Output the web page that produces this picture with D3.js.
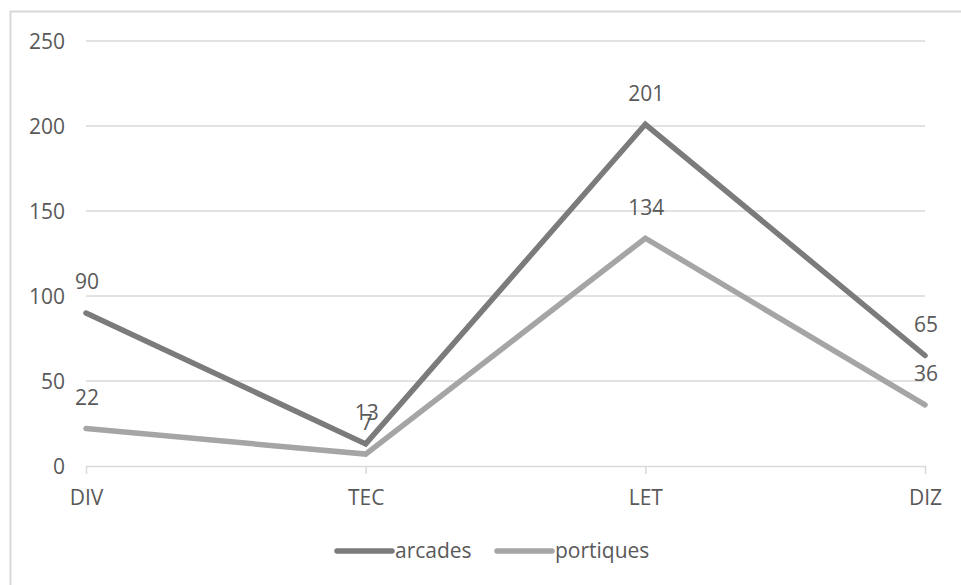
<!DOCTYPE html>
<html>
<head>
<meta charset="utf-8">
<script src="https://cdn.jsdelivr.net/npm/d3@7"></script>
<style>
  html, body { margin: 0; padding: 0; background: #fff; }
  svg { display: block; }
  text { font-family: "Open Sans", "Noto Sans", sans-serif; fill: #595959; }
</style>
</head>
<body>
<svg id="chart" width="961" height="585"></svg>
<script>
// Categories and series
const categories = ["DIV", "TEC", "LET", "DIZ"];
const arcades = [90, 13, 201, 65];
const portiques = [22, 7, 134, 36];
const yTicks = [0, 50, 100, 150, 200, 250];

const series = [
  { name: "arcades", values: arcades, color: "#7b7b7b" },
  { name: "portiques", values: portiques, color: "#a5a5a5" }
];

const svg = d3.select("#chart");
const W = 961, H = 585;
const fontSize = 21;
const lineWidth = 5.5;

// Outer chart frame
svg.append("rect")
  .attr("x", 10.5).attr("y", 11.5)
  .attr("width", W + 20).attr("height", H + 20)
  .attr("fill", "none").attr("stroke", "#d9d9d9").attr("stroke-width", 2);

const x = d3.scalePoint().domain(categories).range([86, 925]);
const y = d3.scaleLinear().domain([0, 250]).range([466, 41]);

// Horizontal gridlines
svg.append("g")
  .selectAll("line")
  .data(yTicks.filter(d => d !== 0))
  .join("line")
  .attr("x1", 86).attr("x2", 925)
  .attr("y1", d => y(d)).attr("y2", d => y(d))
  .attr("stroke", "#d9d9d9").attr("stroke-width", 1.5);

// Y axis labels
const yAxis = d3.axisLeft(y).tickValues(yTicks).tickSize(0).tickPadding(0);
const gy = svg.append("g").attr("transform", "translate(65,0)").call(yAxis);
gy.select(".domain").remove();
gy.selectAll("text")
  .attr("font-size", fontSize)
  .attr("font-family", null)
  .attr("fill", null)
  .attr("dy", "0.35em");

// X axis baseline with ticks
const xAxis = d3.axisBottom(x).tickSize(8).tickSizeOuter(0).tickPadding(16);
const gx = svg.append("g").attr("transform", `translate(0,${y(0)})`).call(xAxis);
gx.select(".domain").attr("stroke", "#d9d9d9").attr("stroke-width", 1.5);
gx.selectAll(".tick line").attr("stroke", "#d9d9d9").attr("stroke-width", 1.5);
gx.selectAll("text")
  .attr("font-size", fontSize)
  .attr("font-family", null)
  .attr("fill", null)
  .attr("y", 32)
  .attr("dy", "0.35em");

// Series lines
const line = d3.line()
  .x((d, i) => x(categories[i]))
  .y(d => y(d));

svg.append("g")
  .selectAll("path")
  .data(series)
  .join("path")
  .attr("d", s => line(s.values))
  .attr("fill", "none")
  .attr("stroke", s => s.color)
  .attr("stroke-width", lineWidth)
  .attr("stroke-linecap", "round")
  .attr("stroke-linejoin", "miter");

// Value labels above each point
series.forEach(s => {
  svg.append("g")
    .selectAll("text")
    .data(s.values)
    .join("text")
    .attr("x", (d, i) => x(categories[i]) + 1)
    .attr("y", d => y(d) - 31)
    .attr("dy", "0.35em")
    .attr("text-anchor", "middle")
    .attr("font-size", fontSize)
    .text(d => d);
});

// Legend
const legendX = [337, 497];
const legend = svg.append("g")
  .selectAll("g")
  .data(series)
  .join("g")
  .attr("transform", (s, i) => `translate(${legendX[i]},551)`);
legend.append("line")
  .attr("x1", 0).attr("x2", 55)
  .attr("stroke", s => s.color)
  .attr("stroke-width", lineWidth)
  .attr("stroke-linecap", "round");
legend.append("text")
  .attr("x", 58)
  .attr("dy", "0.35em")
  .attr("font-size", fontSize)
  .text(s => s.name);
</script>
</body>
</html>
